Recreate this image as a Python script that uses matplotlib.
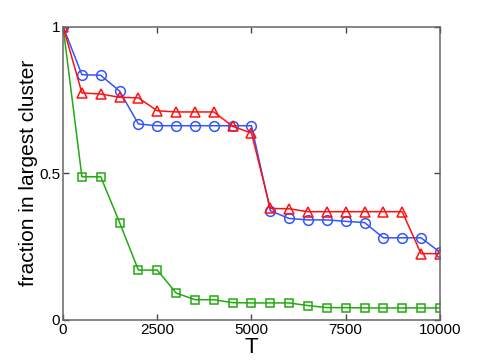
import matplotlib
matplotlib.use("Agg")
import matplotlib.pyplot as plt

plt.rcParams["font.family"] = ["Liberation Sans", "DejaVu Sans"]

T = [0, 500, 1000, 1500, 2000, 2500, 3000, 3500, 4000, 4500, 5000,
     5500, 6000, 6500, 7000, 7500, 8000, 8500, 9000, 9500, 10000]

circles = [1.0, 0.836, 0.834, 0.78, 0.668, 0.662, 0.662, 0.662, 0.662, 0.662, 0.662,
           0.372, 0.346, 0.341, 0.341, 0.336, 0.332, 0.28, 0.28, 0.28, 0.231]
triangles = [1.0, 0.774, 0.77, 0.759, 0.757, 0.713, 0.709, 0.709, 0.709, 0.66, 0.637,
             0.38, 0.379, 0.369, 0.369, 0.369, 0.369, 0.369, 0.369, 0.226, 0.226]
squares = [1.0, 0.488, 0.488, 0.332, 0.17, 0.17, 0.092, 0.069, 0.069, 0.059, 0.058,
           0.058, 0.058, 0.049, 0.042, 0.042, 0.041, 0.041, 0.041, 0.041, 0.041]

fig = plt.figure(figsize=(4.85, 3.64), dpi=100)
ax = fig.add_axes([0.13, 0.121, 0.777, 0.806])

ax.plot(T, squares, color="#22aa11", marker="s", markersize=6,
        markerfacecolor="none", markeredgewidth=1.1, linewidth=1.1)
ax.plot(T, circles, color="#3355ff", marker="o", markersize=7,
        markerfacecolor="none", markeredgewidth=1.1, linewidth=1.1)
ax.plot(T, triangles, color="#ff1111", marker="^", markersize=7.5,
        markerfacecolor="none", markeredgewidth=1.1, linewidth=1.1)

ax.set_xlim(0, 10000)
ax.set_ylim(0, 1)
ax.set_xticks([0, 2500, 5000, 7500, 10000])
ax.set_yticks([0, 0.5, 1])
ax.set_yticklabels(["0", "0.5", "1"])
ax.tick_params(direction="in", top=True, right=True, length=4, width=1,
               color="#444444", labelsize=11, pad=2)
for s in ax.spines.values():
    s.set_color("#666666")
    s.set_linewidth(1.1)

ax.set_xlabel("T", fontsize=16, labelpad=0)
ax.set_ylabel("fraction in largest cluster", fontsize=15, labelpad=1)

fig.savefig("out.png", dpi=100)
